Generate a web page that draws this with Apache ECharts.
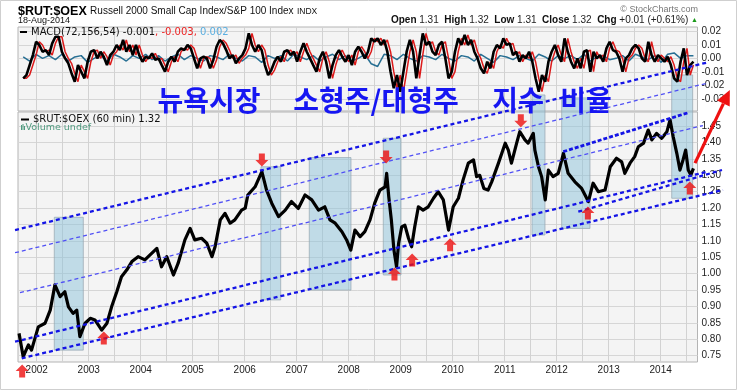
<!DOCTYPE html>
<html><head><meta charset="utf-8">
<script src="https://cdn.jsdelivr.net/npm/echarts@6/dist/echarts.min.js"></script>
<style>html,body{margin:0;padding:0;background:#fff}#c{width:737px;height:390px}</style>
</head><body><div id="c"></div><script>
// ---------- tick labels ----------
const yearTicks = [2002,2003,2004,2005,2006,2007,2008,2009,2010,2011,2012,2013,2014];
const halfYearTicks = [2002,2002.5,2003,2003.5,2004,2004.5,2005,2005.5,2006,2006.5,2007,2007.5,2008,2008.5,2009,2009.5,2010,2010.5,2011,2011.5,2012,2012.5,2013,2013.5,2014,2014.5];
const priceTicks = [0.75,0.80,0.85,0.90,0.95,1.00,1.05,1.10,1.15,1.20,1.25,1.30,1.35,1.40,1.45];
const macdTicks = [-0.03,-0.02,-0.01,0,0.01,0.02];

// ---------- $RUT:$OEX ratio (decimal year, value) ----------
const priceDates = [2001.66,2001.74,2001.84,2001.90,2002.03,2002.16,2002.26,2002.35,2002.45,2002.54,2002.61,2002.70,2002.77,2002.83,2002.93,2003.03,2003.12,2003.25,2003.35,2003.44,2003.54,2003.63,2003.73,2003.83,2003.95,2004.08,2004.21,2004.31,2004.40,2004.50,2004.63,2004.72,2004.85,2004.95,2005.04,2005.17,2005.27,2005.37,2005.43,2005.53,2005.62,2005.72,2005.81,2005.94,2006.01,2006.06,2006.20,2006.33,2006.42,2006.52,2006.65,2006.78,2006.90,2007.03,2007.16,2007.29,2007.42,2007.54,2007.64,2007.74,2007.87,2007.96,2008.04,2008.12,2008.22,2008.31,2008.41,2008.50,2008.60,2008.70,2008.73,2008.77,2008.82,2008.87,2008.92,2008.96,2009.02,2009.08,2009.15,2009.21,2009.27,2009.34,2009.43,2009.53,2009.63,2009.72,2009.82,2009.92,2010.01,2010.11,2010.20,2010.30,2010.40,2010.46,2010.52,2010.60,2010.68,2010.75,2010.88,2011.01,2011.07,2011.13,2011.23,2011.29,2011.39,2011.45,2011.55,2011.58,2011.65,2011.71,2011.78,2011.84,2011.93,2012.03,2012.13,2012.22,2012.35,2012.48,2012.61,2012.70,2012.80,2012.93,2013.03,2013.15,2013.25,2013.31,2013.41,2013.50,2013.57,2013.67,2013.76,2013.83,2013.92,2014.02,2014.12,2014.18,2014.24,2014.31,2014.37,2014.43,2014.48,2014.53,2014.58,2014.63];
const priceValues = [0.818,0.747,0.783,0.767,0.838,0.849,0.889,0.966,0.930,0.945,0.899,0.879,0.889,0.808,0.849,0.864,0.859,0.828,0.849,0.899,0.945,0.991,1.011,1.037,1.052,1.042,1.062,1.077,1.021,1.052,0.996,1.032,1.103,1.138,1.103,1.108,1.093,1.052,1.082,1.164,1.184,1.154,1.164,1.194,1.200,1.240,1.265,1.311,1.255,1.215,1.174,1.194,1.220,1.199,1.240,1.225,1.194,1.204,1.164,1.154,1.128,1.103,1.072,1.133,1.113,1.128,1.164,1.215,1.255,1.265,1.306,1.235,1.164,1.072,1.021,1.093,1.143,1.148,1.108,1.082,1.143,1.204,1.194,1.204,1.230,1.250,1.225,1.133,1.204,1.230,1.286,1.337,1.347,1.296,1.300,1.260,1.255,1.280,1.337,1.398,1.377,1.337,1.398,1.433,1.408,1.398,1.428,1.377,1.326,1.296,1.225,1.316,1.296,1.306,1.367,1.306,1.280,1.260,1.220,1.276,1.250,1.255,1.326,1.352,1.341,1.306,1.337,1.357,1.387,1.398,1.438,1.408,1.428,1.413,1.433,1.469,1.418,1.367,1.316,1.347,1.377,1.316,1.301,1.321];

// ---------- MACD(72,156,54): evenly sampled from first to last bar ----------
const MACD_FIRST = 2001.74, MACD_LAST = 2014.63;
const macdLine = [-0.0148,-0.0124,-0.0050,0.0024,0.0123,0.0099,0.0049,0.0061,0.0024,0.0111,0.0160,0.0160,0.0049,0.0000,-0.0037,-0.0110,-0.0173,-0.0050,-0.0099,-0.0148,-0.0025,0.0049,0.0061,0.0000,0.0049,0.0012,-0.0050,0.0024,0.0049,0.0099,0.0061,0.0136,0.0049,0.0099,0.0024,0.0099,0.0024,-0.0025,0.0012,0.0000,0.0037,-0.0012,0.0000,-0.0050,-0.0099,-0.0025,0.0012,-0.0025,0.0049,0.0074,0.0061,0.0099,0.0074,0.0000,-0.0074,0.0000,0.0012,0.0000,-0.0074,-0.0012,0.0086,0.0136,0.0111,0.0061,0.0000,0.0024,-0.0037,0.0000,0.0024,
0.0074,0.0185,0.0099,0.0049,0.0099,0.0061,-0.0050,-0.0124,-0.0087,-0.0025,0.0012,-0.0025,0.0049,0.0061,0.0024,0.0049,-0.0025,0.0049,0.0111,0.0049,0.0000,-0.0050,-0.0099,0.0000,0.0049,-0.0025,-0.0148,-0.0050,0.0024,0.0061,0.0012,-0.0025,0.0024,-0.0050,0.0049,0.0086,0.0049,0.0000,0.0049,0.0148,0.0123,0.0148,0.0099,0.0136,0.0049,-0.0099,-0.0222,-0.0124,-0.0247,-0.0099,0.0049,0.0136,0.0049,-0.0148,0.0024,0.0185,0.0099,0.0123,0.0049,0.0024,0.0099,0.0123,0.0000,-0.0148,-0.0099,0.0049,0.0148,0.0099,0.0173,0.0099,0.0136,0.0049,
0.0000,-0.0074,-0.0111,-0.0025,-0.0074,0.0049,0.0099,0.0074,0.0148,0.0099,0.0111,0.0024,0.0049,-0.0025,0.0024,0.0000,0.0049,-0.0025,-0.0148,-0.0247,-0.0124,-0.0173,-0.0025,0.0049,0.0099,0.0024,-0.0025,0.0148,0.0049,-0.0025,-0.0074,0.0000,-0.0074,0.0049,0.0061,-0.0099,0.0049,0.0000,0.0024,-0.0025,0.0074,0.0123,0.0061,0.0049,0.0000,-0.0099,0.0000,0.0024,0.0074,0.0099,0.0074,0.0000,-0.0025,0.0123,0.0024,-0.0025,0.0024,0.0000,-0.0025,0.0012,-0.0050,-0.0148,-0.0173,-0.0025,0.0074,-0.0124,-0.0050,-0.0025];
const signalLine = [-0.0148,-0.0148,-0.0124,-0.0050,0.0024,0.0123,0.0099,0.0049,0.0061,0.0024,0.0111,0.0160,0.0160,0.0049,0.0000,-0.0037,-0.0110,-0.0173,-0.0050,-0.0099,-0.0148,-0.0025,0.0049,0.0061,0.0000,0.0049,0.0012,-0.0050,0.0024,0.0049,0.0099,0.0061,0.0136,0.0049,0.0099,0.0024,0.0099,0.0024,-0.0025,0.0012,0.0000,0.0037,-0.0012,0.0000,-0.0050,-0.0099,-0.0025,0.0012,-0.0025,0.0049,0.0074,0.0061,0.0099,0.0074,0.0000,-0.0074,0.0000,0.0012,0.0000,-0.0074,-0.0012,0.0086,0.0136,0.0111,0.0061,0.0000,0.0024,-0.0037,0.0000,
0.0024,0.0074,0.0185,0.0099,0.0049,0.0099,0.0061,-0.0050,-0.0124,-0.0087,-0.0025,0.0012,-0.0025,0.0049,0.0061,0.0024,0.0049,-0.0025,0.0049,0.0111,0.0049,0.0000,-0.0050,-0.0099,0.0000,0.0049,-0.0025,-0.0148,-0.0050,0.0024,0.0061,0.0012,-0.0025,0.0024,-0.0050,0.0049,0.0086,0.0049,0.0000,0.0049,0.0148,0.0123,0.0148,0.0099,0.0136,0.0049,-0.0099,-0.0222,-0.0124,-0.0247,-0.0099,0.0049,0.0136,0.0049,-0.0148,0.0024,0.0185,0.0099,0.0123,0.0049,0.0024,0.0099,0.0123,0.0000,-0.0148,-0.0099,0.0049,0.0148,0.0099,0.0173,0.0099,0.0136,
0.0049,0.0000,-0.0074,-0.0111,-0.0025,-0.0074,0.0049,0.0099,0.0074,0.0148,0.0099,0.0111,0.0024,0.0049,-0.0025,0.0024,0.0000,0.0049,-0.0025,-0.0148,-0.0247,-0.0124,-0.0173,-0.0025,0.0049,0.0099,0.0024,-0.0025,0.0148,0.0049,-0.0025,-0.0074,0.0000,-0.0074,0.0049,0.0061,-0.0099,0.0049,0.0000,0.0024,-0.0025,0.0074,0.0123,0.0061,0.0049,0.0000,-0.0099,0.0000,0.0024,0.0074,0.0099,0.0074,0.0000,-0.0025,0.0123,0.0024,-0.0025,0.0024,0.0000,-0.0025,0.0012,-0.0050,-0.0148,-0.0173,-0.0025,0.0074,-0.0124,-0.0050];
const histLine = [0.001,-0.002,0.003,0.000,0.002,-0.001,0.003,-0.002,0.001,0.002,-0.003,0.000,0.002,-0.002,0.003,0.001,-0.002,0.002,0.000,0.003,-0.001,0.002,-0.002,0.001,0.003,-0.001,0.002,0.000,-0.002,0.002,0.001,-0.001,0.003,0.000,-0.002,0.002,0.001,-0.003,0.002,0.000,0.002,-0.002,0.003,0.001,-0.001,0.002,-0.002,0.001,0.003,-0.001,0.002,-0.002,0.000,0.003,-0.004,-0.006,0.003,0.002,-0.001,0.003,0.000,-0.002,0.002,0.001,-0.001,0.003,0.000,-0.002,0.002,0.001,-0.002,0.003,0.000,-0.003,0.002,0.001,-0.001,0.002,0.000,-0.002,0.003,0.001,-0.002,0.002,0.000,0.002,-0.001,0.003,-0.002,0.001,0.002,-0.001,0.000,0.002,-0.002,0.003,0.001,-0.001,0.002,-0.003,0.003,0.004,0.000,0.002,0.002];

// ---------- annotations (data coordinates) ----------
const shadeX0 = [2002.338,2006.313,2007.242,2008.665,2011.525,2012.096,2014.212];
const shadeX1 = [2002.896,2006.692,2008.044,2009.006,2011.775,2012.640,2014.615];
const shadeLow = [0.767,0.920,0.950,0.996,1.118,1.138,1.230];
const shadeHigh = [1.172,1.326,1.354,1.413,1.545,1.536,1.606];

const trendX1 = [2001.583,2001.583,2001.679,2001.583,2001.712,2012.415,2012.127];
const trendY1 = [1.1332,1.0640,0.9421,0.7927,0.7421,1.1890,1.3720];
const trendX2 = [2014.909,2014.909,2014.813,2014.871,2015.198,2015.179,2014.531];
const trendY2 = [1.6445,1.5814,1.4518,1.3101,1.2552,1.3162,1.4909];

const arrowUpX = [2001.72,2003.29,2008.88,2009.22,2009.95,2012.60,2014.56];
const arrowUpY = [0.703,0.804,0.999,1.042,1.088,1.185,1.261];
const arrowDownX = [2006.33,2008.72,2011.31];
const arrowDownY = [1.347,1.356,1.466];
const bigArrowFrom = [2014.66,1.337];
const bigArrowTo = [2015.33,1.560];

// ---------- styles ----------
const trendWidth = [2.3,1.3,1.3,2.3,2.3,2.3,2.8];
const trendColor = ['#1414e6','#5050f5','#5050f5','#1414e6','#1414e6','#1414e6','#1414e6'];
const trendDash = [[4,3],[4,3],[4,3],[4,3],[4,3],[4,3],[4,2]];

const X_MIN = 2001.640, X_MAX = 2014.708;
const P_MIN = 0.7308, P_MAX = 1.493;
const M_MIN = -0.0390, M_MAX = 0.0232;
const FONT = '"Liberation Sans", Arial, sans-serif';
const DFONT = '"DejaVu Sans", Verdana, sans-serif';

const macdX = i => MACD_FIRST + i * (MACD_LAST - MACD_FIRST) / (macdLine.length - 1);
const histX = i => MACD_FIRST + i * (MACD_LAST - MACD_FIRST) / (histLine.length - 1);

const chart = echarts.init(document.getElementById('c'), null, {renderer: 'canvas'});

const gridBase = {left: 18, width: 679.5, show: true, backgroundColor: '#f4f4f4', borderColor: '#b4b4b4', borderWidth: 1, containLabel: false, outerBoundsMode: 'none'};
const xBase = (gi, showLabel) => ({
  gridIndex: gi, type: 'value', min: X_MIN, max: X_MAX,
  axisLine: {show: false},
  axisTick: {show: false, customValues: halfYearTicks},
  axisLabel: showLabel ? {show: true, customValues: yearTicks, formatter: v => String(Math.round(v)), fontSize: 10, fontFamily: FONT, color: '#222', margin: 3} : {show: false},
  splitLine: {show: true, lineStyle: {color: '#d2d2d2', width: 1}}
});
const fmt2 = v => (Math.abs(v) < 1e-9 ? 0 : v).toFixed(2);

const option = {
  animation: false,
  backgroundColor: '#ffffff',
  grid: [
    Object.assign({top: 27, height: 84}, gridBase),
    Object.assign({top: 112, height: 250}, gridBase)
  ],
  xAxis: [xBase(0, false), xBase(1, true)],
  yAxis: [
    {gridIndex: 0, type: 'value', position: 'right', min: M_MIN, max: M_MAX,
     axisLine: {show: false}, axisTick: {show: false, customValues: macdTicks},
     axisLabel: {customValues: macdTicks, formatter: fmt2, fontSize: 10, fontFamily: FONT, color: '#222', margin: 4},
     splitLine: {show: true, lineStyle: {color: '#d6d6d6'}}},
    {gridIndex: 1, type: 'value', position: 'right', min: P_MIN, max: P_MAX,
     axisLine: {show: false}, axisTick: {show: false, customValues: priceTicks},
     axisLabel: {customValues: priceTicks, formatter: fmt2, fontSize: 10, fontFamily: FONT, color: '#222', margin: 4},
     splitLine: {show: true, lineStyle: {color: '#d6d6d6'}}}
  ],
  series: [
    {type: 'line', xAxisIndex: 0, yAxisIndex: 0, showSymbol: false, z: 2,
     data: histLine.map((v, i) => [histX(i), v]), lineStyle: {color: '#276f93', width: 1.5}},
    {type: 'line', xAxisIndex: 0, yAxisIndex: 0, showSymbol: false, z: 3,
     data: signalLine.map((v, i) => [macdX(i), v]), lineStyle: {color: '#dd1a1a', width: 1.5}},
    {type: 'line', xAxisIndex: 0, yAxisIndex: 0, showSymbol: false, z: 4,
     data: macdLine.map((v, i) => [macdX(i), v]), lineStyle: {color: '#000', width: 2.6}},
    {type: 'custom', xAxisIndex: 1, yAxisIndex: 1, z: 1, clip: false,
     data: shadeX0.map((x, i) => [x, shadeX1[i], shadeLow[i], shadeHigh[i]]),
     renderItem: (params, api) => {
       const a = api.coord([api.value(0), api.value(3)]);
       const b = api.coord([api.value(1), api.value(2)]);
       return {type: 'rect', shape: {x: a[0], y: a[1], width: b[0] - a[0], height: b[1] - a[1]},
               style: {fill: 'rgba(140,194,218,0.5)', stroke: 'rgba(150,165,175,0.7)', lineWidth: 1}};
     }},
    {type: 'line', xAxisIndex: 1, yAxisIndex: 1, showSymbol: false, z: 5,
     data: priceDates.map((d, i) => [d, priceValues[i]]), lineStyle: {color: '#000', width: 3.2, join: 'round'}},
    {type: 'custom', xAxisIndex: 1, yAxisIndex: 1, z: 6, clip: false,
     data: trendX1.map((x, i) => [x, trendY1[i], trendX2[i], trendY2[i]]),
     renderItem: (params, api) => {
       const i = params.dataIndex;
       const a = api.coord([api.value(0), api.value(1)]);
       const b = api.coord([api.value(2), api.value(3)]);
       return {type: 'line', shape: {x1: a[0], y1: a[1], x2: b[0], y2: b[1]},
               style: {stroke: trendColor[i], lineWidth: trendWidth[i], lineDash: trendDash[i]}};
     }},
    {type: 'scatter', xAxisIndex: 1, yAxisIndex: 1, z: 7, clip: false,
     symbol: 'path://M6.5,0 L13,6.5 L9.5,6.5 L9.5,13 L3.5,13 L3.5,6.5 L0,6.5 Z', symbolSize: [13, 13],
     itemStyle: {color: '#ee0f0f'}, data: arrowUpX.map((x, i) => [x, arrowUpY[i]])},
    {type: 'scatter', xAxisIndex: 1, yAxisIndex: 1, z: 7, clip: false,
     symbol: 'path://M3.5,0 L9.5,0 L9.5,6.5 L13,6.5 L6.5,13 L0,6.5 L3.5,6.5 Z', symbolSize: [13, 13],
     itemStyle: {color: '#ee0f0f'}, data: arrowDownX.map((x, i) => [x, arrowDownY[i]])},
    {type: 'custom', xAxisIndex: 1, yAxisIndex: 1, z: 8, clip: false,
     data: [[bigArrowFrom[0], bigArrowFrom[1], bigArrowTo[0], bigArrowTo[1]]],
     renderItem: (params, api) => {
       const a = api.coord([api.value(0), api.value(1)]);
       const b = api.coord([api.value(2), api.value(3)]);
       const dx = b[0] - a[0], dy = b[1] - a[1], L = Math.hypot(dx, dy), ux = dx / L, uy = dy / L;
       const hl = 15, hw = 7;
       const base = [b[0] - ux * hl, b[1] - uy * hl];
       return {type: 'group', children: [
         {type: 'line', shape: {x1: a[0], y1: a[1], x2: base[0], y2: base[1]}, style: {stroke: '#ee1111', lineWidth: 3.2}},
         {type: 'polygon', shape: {points: [b, [base[0] - uy * hw, base[1] + ux * hw], [base[0] + uy * hw, base[1] - ux * hw]]}, style: {fill: '#ee1111'}}
       ]};
     }}
  ],
  graphic: [
    {type: 'rect', z: 0, silent: true, shape: {x: 0.5, y: 0.5, width: 736, height: 389}, style: {fill: null, stroke: '#cfcfcf', lineWidth: 1}},
    {type: 'text', x: 18, y: 11.5, z: 50, silent: true, style: {
      text: '{a|$RUT:$OEX} {b|Russell 2000 Small Cap Index/S&P 100 Index} {c|INDX}', verticalAlign: 'middle',
      rich: {a: {fontFamily: FONT, fontSize: 12.5, fontWeight: 'bold', fill: '#000'},
             b: {fontFamily: FONT, fontSize: 10, fill: '#111'},
             c: {fontFamily: FONT, fontSize: 8.5, fill: '#111'}}}},
    {type: 'text', x: 18, y: 20.5, z: 50, silent: true, style: {text: '18-Aug-2014', font: '9px ' + FONT, fill: '#111', verticalAlign: 'middle'}},
    {type: 'text', x: 698, y: 10, z: 50, silent: true, style: {text: '© StockCharts.com', font: '9px ' + FONT, fill: '#777', align: 'right', verticalAlign: 'middle'}},
    {type: 'text', x: 698, y: 20.5, z: 50, silent: true, style: {
      text: '{b|Open}{v| 1.31  }{b|High}{v| 1.32  }{b|Low}{v| 1.31  }{b|Close}{v| 1.32  }{b|Chg}{v| +0.01 (+0.61%) }{g|▲}',
      align: 'right', verticalAlign: 'middle',
      rich: {b: {fontFamily: FONT, fontSize: 10, fontWeight: 'bold', fill: '#111'},
             v: {fontFamily: FONT, fontSize: 10, fill: '#222'},
             g: {fontFamily: FONT, fontSize: 7, fill: '#1a9a1a'}}}},
    {type: 'rect', z: 50, silent: true, shape: {x: 20, y: 31, width: 7, height: 2}, style: {fill: '#000'}},
    {type: 'text', x: 31, y: 32, z: 50, silent: true, style: {
      text: '{k|MACD(72,156,54) -0.001}{r|, -0.003, }{l|0.002}', verticalAlign: 'middle',
      rich: {k: {fontFamily: DFONT, fontSize: 10, fill: '#111'},
             r: {fontFamily: DFONT, fontSize: 10, fill: '#ee2222'},
             l: {fontFamily: DFONT, fontSize: 10, fill: '#5aaee0'}}}},
    {type: 'rect', z: 50, silent: true, shape: {x: 21, y: 118.5, width: 8, height: 2}, style: {fill: '#000'}},
    {type: 'text', x: 33, y: 119.5, z: 50, silent: true, style: {text: '$RUT:$OEX (60 min) 1.32', font: '10px ' + DFONT, fill: '#111', verticalAlign: 'middle'}},
    {type: 'rect', z: 50, silent: true, shape: {x: 21, y: 125, width: 1, height: 5}, style: {fill: '#4f9a7f'}},
    {type: 'rect', z: 50, silent: true, shape: {x: 22.5, y: 124, width: 1, height: 6}, style: {fill: '#4f9a7f'}},
    {type: 'rect', z: 50, silent: true, shape: {x: 24, y: 126, width: 1, height: 4}, style: {fill: '#4f9a7f'}},
    {type: 'text', x: 25.5, y: 127.5, z: 50, silent: true, style: {text: 'Volume undef', font: '9.5px ' + DFONT, fill: '#4f9a7f', verticalAlign: 'middle'}},
    {type: 'text', x: 209, y: 100, z: 100, silent: true, style: {text: '뉴욕시장', font: 'bold 28px "Noto Sans CJK KR"', fill: '#1616f2', align: 'center', verticalAlign: 'middle'}},
    {type: 'text', x: 376, y: 100, z: 100, silent: true, style: {text: '소형주/대형주', font: 'bold 28px "Noto Sans CJK KR"', fill: '#1616f2', align: 'center', verticalAlign: 'middle'}},
    {type: 'text', x: 518, y: 100, z: 100, silent: true, style: {text: '지수', font: 'bold 28px "Noto Sans CJK KR"', fill: '#1616f2', align: 'center', verticalAlign: 'middle'}},
    {type: 'text', x: 586, y: 100, z: 100, silent: true, style: {text: '비율', font: 'bold 28px "Noto Sans CJK KR"', fill: '#1616f2', align: 'center', verticalAlign: 'middle'}}
  ]
};
chart.setOption(option);
</script></body></html>
